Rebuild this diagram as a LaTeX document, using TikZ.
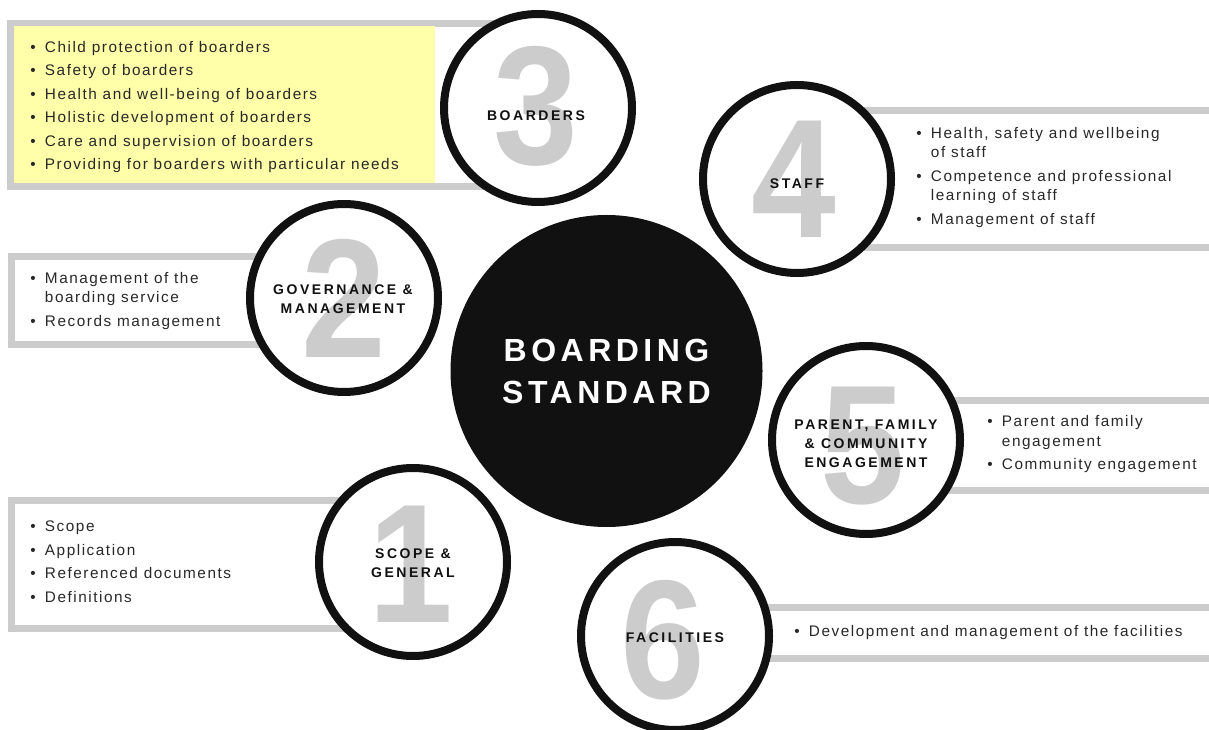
\documentclass[tikz,border=0pt]{standalone}
\usepackage{fontspec}
\usepackage{graphicx}
\setmainfont{Liberation Sans}
\newfontfamily\bodyfont[LetterSpace=10]{Liberation Sans}
\newfontfamily\labelfont[LetterSpace=18]{Liberation Sans}
\newfontfamily\hubfont[LetterSpace=14]{Liberation Sans}
\newfontfamily\numfont{Liberation Sans}

\definecolor{boxgray}{RGB}{204,204,204}
\definecolor{ink}{RGB}{17,17,17}
\definecolor{digitgray}{RGB}{204,204,204}
\definecolor{hilite}{RGB}{255,255,170}
\definecolor{txt}{RGB}{40,40,40}

\newcommand{\bignum}[1]{\scalebox{0.9}[1]{#1}}

\begin{document}
\begin{tikzpicture}[x=0.75pt,y=-0.75pt,
  frame/.style={draw=boxgray,line width=4.9pt,fill=white},
  ring/.style={circle,draw=ink,line width=6pt,fill=white,minimum size=141pt,inner sep=0pt},
  hub/.style={circle,fill=ink,minimum size=234pt,inner sep=0pt},
  digit/.style={anchor=base,text=digitgray,inner sep=0pt,
    font=\numfont\bfseries\fontsize{127}{127}\selectfont},
  lbl/.style={align=center,text=ink,inner sep=0pt,
    font=\labelfont\bfseries\fontsize{10.5}{14.25}\selectfont},
  hubtext/.style={align=center,text=white,inner sep=0pt,
    font=\hubfont\bfseries\fontsize{24}{31.5}\selectfont},
  items/.style={anchor=west,inner sep=0pt,text=txt,
    font=\bodyfont\fontsize{11.5}{14.6}\selectfont}]

\useasboundingbox (0,0) rectangle (1209,730);
\clip (0,0) rectangle (1209,730);

% frames that hold the lists, tucked under the rings
\draw[frame] (10.25,23.25) rectangle (540,186.75);
\fill[hilite] (13.5,26.5) rectangle (435,183.5);
\draw[frame] (11.25,256.5) rectangle (345,344.5);
\draw[frame] (11.25,500.5) rectangle (415,628.5);
\draw[frame] (797,110.5) rectangle (1225,247.5);
\draw[frame] (866,400.5) rectangle (1225,490.5);
\draw[frame] (675,607.5) rectangle (1225,658.5);

% central disc
\node[hub] (hub) at (606.5,371) {};
\node[hubtext] (hubt) at (606.5,371) {BOARDING\\STANDARD};

% numbered rings
\node[ring] (c1) at (413,562) {};
\node[ring] (c2) at (344,298) {};
\node[ring] (c3) at (538,108) {};
\node[ring] (c4) at (797,179) {};
\node[ring] (c5) at (866,440) {};
\node[ring] (c6) at (675,636) {};

\node[digit] (n1) at (411,622) {\bignum{1}};
\node[digit] (n2) at (344,358) {\bignum{2}};
\node[digit] (n3) at (536,165) {\bignum{3}};
\node[digit] (n4) at (794,238) {\bignum{4}};
\node[digit] (n5) at (863,503) {\bignum{5}};
\node[digit] (n6) at (663,698) {\bignum{6}};

\node[lbl] (l1) at (413,563) {SCOPE \&\\GENERAL};
\node[lbl] (l2) at (343,299.5) {GOVERNANCE \&\\MANAGEMENT};
\node[lbl] (l3) at (536,116) {BOARDERS};
\node[lbl] (l4) at (797,184) {STAFF};
\node[lbl] (l5) at (866,444) {PARENT, FAMILY\\\& COMMUNITY\\ENGAGEMENT};
\node[lbl] (l6) at (675,638) {FACILITIES};

% lists
\node[items] (t3) at (30,107) {\begin{tabular}{@{}l@{\hspace{7pt}}l@{}}
• & Child protection of boarders\\[3pt]
• & Safety of boarders\\[3pt]
• & Health and well-being of boarders\\[3pt]
• & Holistic development of boarders\\[3pt]
• & Care and supervision of boarders\\[3pt]
• & Providing for boarders with particular needs
\end{tabular}};

\node[items] (t2) at (30,301) {\begin{tabular}{@{}l@{\hspace{7pt}}l@{}}
• & Management of the\\
  & boarding service\\[3pt]
• & Records management
\end{tabular}};

\node[items] (t1) at (30,563) {\begin{tabular}{@{}l@{\hspace{7pt}}l@{}}
• & Scope\\[3pt]
• & Application\\[3pt]
• & Referenced documents\\[3pt]
• & Definitions
\end{tabular}};

\node[items] (t4) at (916,177.5) {\begin{tabular}{@{}l@{\hspace{7pt}}l@{}}
• & Health, safety and wellbeing\\
  & of staff\\[3pt]
• & Competence and professional\\
  & learning of staff\\[3pt]
• & Management of staff
\end{tabular}};

\node[items] (t5) at (987,444.5) {\begin{tabular}{@{}l@{\hspace{7pt}}l@{}}
• & Parent and family\\
  & engagement\\[3pt]
• & Community engagement
\end{tabular}};

\node[items] (t6) at (794,633) {\begin{tabular}{@{}l@{\hspace{7pt}}l@{}}
• & Development and management of the facilities
\end{tabular}};

\end{tikzpicture}
\end{document}
